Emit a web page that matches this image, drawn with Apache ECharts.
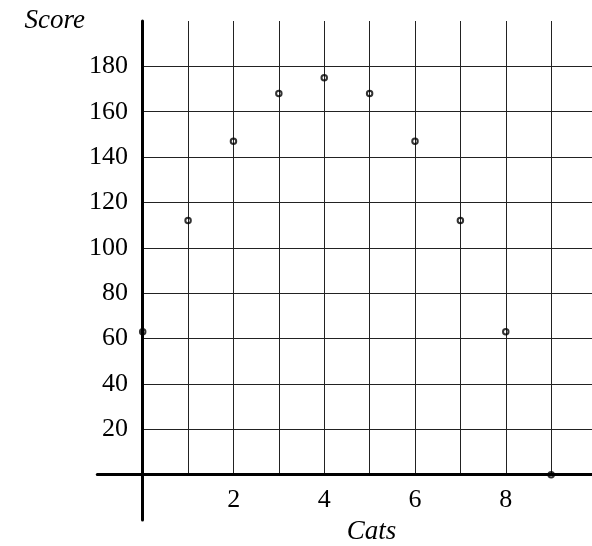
<!DOCTYPE html>
<html>
<head>
<meta charset="utf-8">
<script src="https://cdn.jsdelivr.net/npm/echarts@6/dist/echarts.min.js"></script>
<style>html,body{margin:0;padding:0;background:#fff}#c{width:592px;height:546px}</style>
</head>
<body>
<div id="c"></div>
<script>
var cats = [0, 1, 2, 3, 4, 5, 6, 7, 8, 9];
var scores = [63, 112, 147, 168, 175, 168, 147, 112, 63, 0];
var xTickLabels = [2, 4, 6, 8];
var yTickLabels = [20, 40, 60, 80, 100, 120, 140, 160, 180];

var FONT = 'Liberation Serif';
var chart = echarts.init(document.getElementById('c'), null, {renderer: 'canvas'});
chart.setOption({
  animation: false,
  backgroundColor: '#fff',
  grid: [
    {left: 97.3, right: 0, top: 21, bottom: 26, containLabel: false, outerBoundsMode: 'none'},
    {left: 142.9, right: 0, top: 21, bottom: 71.4, containLabel: false, outerBoundsMode: 'none'}
  ],
  xAxis: [
    {
      type: 'value', gridIndex: 0, min: -1, max: 9.9, interval: 1, z: 5,
      axisLine: {onZero: true, lineStyle: {color: '#000', width: 3}},
      axisTick: {show: false}, axisLabel: {show: false},
      splitLine: {show: false}
    },
    {
      type: 'value', gridIndex: 1, min: 0, max: 9.9, interval: 1, z: 0,
      name: 'Cats', nameLocation: 'middle', nameGap: 38,
      nameTextStyle: {fontFamily: FONT, fontStyle: 'italic', fontSize: 27, color: '#000', padding: [0, 0, 0, 8]},
      axisLine: {show: false}, axisTick: {show: false},
      axisLabel: {
        margin: 13, fontFamily: FONT, fontSize: 26, color: '#000',
        showMinLabel: false, showMaxLabel: false,
        formatter: function (v) { return xTickLabels.indexOf(v) >= 0 ? String(v) : ''; }
      },
      splitLine: {show: true, showMinLine: false, showMaxLine: false, lineStyle: {color: '#222', width: 1}}
    }
  ],
  yAxis: [
    {
      type: 'value', gridIndex: 0, min: -20, max: 200, interval: 20, z: 5,
      axisLine: {onZero: true, lineStyle: {color: '#000', width: 3}},
      axisTick: {show: false}, axisLabel: {show: false},
      splitLine: {show: false}
    },
    {
      type: 'value', gridIndex: 1, min: 0, max: 200, interval: 20, z: 0,
      name: 'Score', nameLocation: 'end', nameGap: 0,
      nameTextStyle: {fontFamily: FONT, fontStyle: 'italic', fontSize: 27, color: '#000', align: 'right', verticalAlign: 'middle', padding: [0, 58, 0, 0]},
      axisLine: {show: false}, axisTick: {show: false},
      axisLabel: {
        margin: 15, fontFamily: FONT, fontSize: 26, color: '#000',
        formatter: function (v) { return yTickLabels.indexOf(v) >= 0 ? String(v) : ''; }
      },
      splitLine: {show: true, showMinLine: false, showMaxLine: false, lineStyle: {color: '#222', width: 1}}
    }
  ],
  series: [{
    type: 'scatter', xAxisIndex: 0, yAxisIndex: 0, z: 2,
    symbol: 'circle', symbolSize: 5.5,
    itemStyle: {color: 'rgba(0,0,0,0)', borderColor: '#000', borderWidth: 2},
    data: cats.map(function (c, i) { return [c, scores[i]]; })
  }]
});
</script>
</body>
</html>
